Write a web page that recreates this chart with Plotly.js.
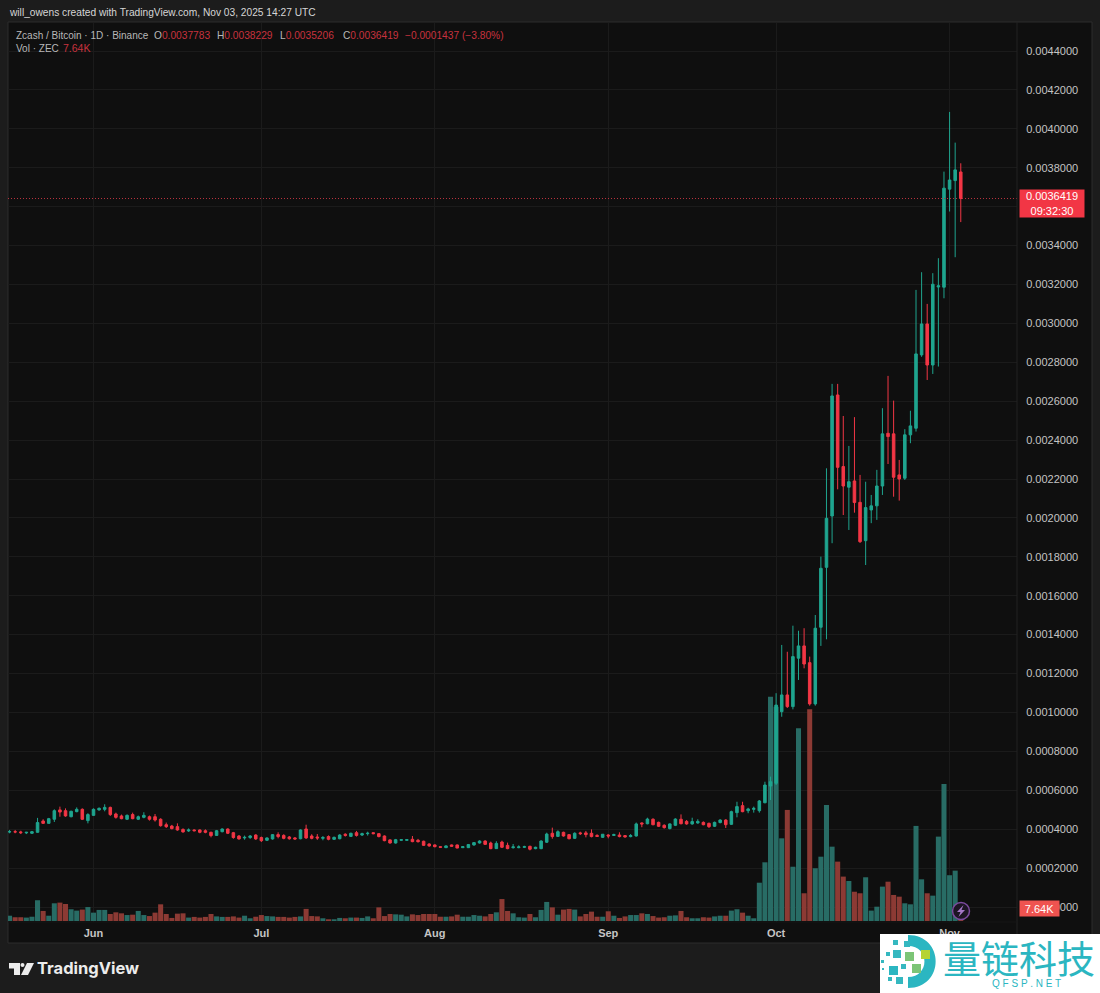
<!DOCTYPE html>
<html><head><meta charset="utf-8">
<script src="https://cdn.plot.ly/plotly-3.0.1.min.js"></script>
<style>html,body{margin:0;padding:0;background:#1c1c1c}#c{width:1100px;height:993px}</style>
</head><body><div id="c"></div>
<script>
// All prices in millionths of BTC, one row per month (May 17 - Nov 3, 2025)
const firstDay = '2025-05-17';
const openP = [
386,387,386,381,379,384,442,430,451,499,495,464,490,502,444,
471,499,502,512,478,468,451,475,451,461,464,464,451,423,416,413,399,391,396,396,392,384,368,387,401,382,365,355,357,370,
357,343,350,372,368,360,355,351,401,365,360,353,362,348,351,374,363,382,370,377,382,377,365,345,329,343,343,348,343,338,324,
319,310,305,319,319,305,305,319,329,339,329,300,334,317,305,305,307,312,300,300,333,379,363,384,372,353,381,381,379,368,358,
370,368,370,367,362,365,432,428,451,435,420,403,420,451,440,427,432,435,430,415,434,447,425,485,521,495,502,495,536,622,
636,1004,1090,1030,1279,1342,1256,1044,1438,1746,2010,2632,2264,2158,2190,2080,1883,2041,2062,2164,2435,2432,2221,2204,2427,2461,2838,2997,2786,3187,3186,
3690,3734,3778.3];
const highP = [
396,396,392,386,391,458,451,458,502,516,507,495,512,507,482,
507,512,528,516,485,475,476,485,470,487,470,478,456,434,422,430,404,404,399,399,399,387,396,404,404,386,370,367,370,374,
362,358,375,384,374,365,360,399,423,374,375,365,368,362,374,379,382,391,382,387,384,379,368,348,350,348,348,365,350,341,327,
322,312,317,321,321,312,324,334,343,343,336,338,341,331,324,317,315,315,310,343,382,408,394,387,375,384,387,391,399,374,375,
374,377,384,370,375,434,435,459,456,439,425,430,456,476,447,459,451,440,434,439,451,451,495,541,541,510,516,550,644,670,
1099,1347,1312,1446,1420,1433,1287,1501,1801,2255,2689,2689,2524,2370,2518,2221,2186,2118,2247,2564,2730,2603,2298,2456,2551,3172,3263,3100,3258,3335,3780,
4087,3929,3822.9];
const lowP = [
379,379,375,375,375,382,427,428,437,464,464,461,487,447,430,
468,495,492,468,454,451,447,451,447,456,444,439,413,406,399,392,382,386,389,379,379,358,365,384,375,351,346,346,350,345,
334,339,346,353,348,346,346,348,350,348,345,343,343,345,348,362,360,362,365,367,374,358,338,326,326,339,341,333,331,314,310,
307,305,303,310,302,303,303,315,326,319,297,298,303,297,300,302,303,291,297,297,329,351,360,362,348,350,370,358,358,360,355,
353,365,358,357,358,362,410,425,420,411,403,399,416,425,423,423,428,420,406,411,430,406,422,461,487,482,485,485,533,550,
627,978,1023,1016,1167,1227,1035,1035,1342,1376,1870,2147,2015,1938,2027,1871,1758,1973,1990,2118,2277,2109,2089,2195,2384,2444,2828,2709,2740,2778,3129,
3575,3340,3520.6];
const closeP = [
387,386,382,384,387,434,430,454,495,488,468,492,502,451,475,
502,507,512,475,461,454,471,454,464,471,451,447,418,413,403,396,386,396,392,384,384,367,392,401,379,357,350,358,365,350,
341,355,372,362,353,351,350,396,355,353,355,357,348,358,370,368,379,368,377,379,377,362,341,329,346,346,346,336,336,317,314,
310,307,314,312,303,310,321,331,339,322,300,327,307,300,309,309,310,297,307,339,375,362,387,365,351,379,377,372,362,363,374,
365,372,362,360,367,427,427,452,423,415,408,427,452,428,427,439,440,423,413,435,447,423,490,516,490,504,507,545,627,644,
1038,1090,1030,1287,1342,1249,1044,1433,1741,1998,2627,2260,2164,2186,2079,1878,2053,2062,2164,2432,2418,2209,2200,2427,2473,2843,2997,2786,3201,3193,3695,
3737,3789,3641.9];
// Volume in thousands of ZEC
const volumeK = [
3.1,2.2,2.2,2.0,2.5,12.2,5.9,3.1,10.4,10.8,10.0,6.9,6.1,6.7,8.2,
4.9,6.5,6.5,4.1,5.1,4.5,3.5,3.7,5.9,3.5,2.9,4.9,9.8,4.1,1.8,4.3,4.5,2.0,2.4,2.0,2.4,4.1,2.7,2.4,2.4,2.7,2.0,3.1,1.6,2.5,
3.5,2.9,2.7,2.4,2.4,2.0,2.4,2.7,7.1,2.9,2.7,1.6,1.0,1.0,1.8,1.6,2.0,2.0,1.8,2.7,1.6,8.0,2.9,4.1,3.9,3.7,2.7,3.9,3.5,4.1,4.1,
4.1,2.5,2.5,2.7,3.7,2.5,2.5,3.5,3.1,2.7,4.1,5.1,12.9,5.9,4.5,2.2,2.0,4.1,2.2,6.5,11.2,8.0,3.7,6.7,7.1,6.7,2.7,4.1,5.5,2.5,2.5,
5.7,3.1,1.8,2.7,3.5,3.5,4.5,4.1,2.9,2.0,2.2,3.1,3.3,5.9,2.2,1.6,1.6,2.2,2.0,2.7,3.1,3.1,6.1,6.9,4.9,3.1,1.6,22.5,34.5,131.9,
126,48.6,65.3,31.9,113.3,16.3,124.5,31,37.8,68.2,43.7,34.9,26.1,23.5,17.2,16.3,25.7,6.1,8.4,20.2,23.1,15.3,14.3,10.4,9.8,55.9,24.5,16.3,14.9,49.6,80.6,
26.9,29.6,7.64];
const monthTicks = ['2025-06-01','2025-07-01','2025-08-01','2025-09-01','2025-10-01','2025-11-01'];
const monthLabels = ['Jun','Jul','Aug','Sep','Oct','Nov'];
const priceTicks = [0,0.0002,0.0004,0.0006,0.0008,0.0010,0.0012,0.0014,0.0016,0.0018,0.0020,0.0022,0.0024,0.0026,0.0028,0.0030,0.0032,0.0034,0.0036,0.0038,0.0040,0.0042,0.0044];
const lastPrice = 0.0036419;

const UP='#1fa58f', DOWN='#f23645', VUP='rgb(40,108,101)', VDOWN='rgb(140,58,52)', TXT='#c4c4c4', DIM='#c8323e';
const FONT='"Liberation Sans", Arial, sans-serif';
const dates = openP.map((_,i)=>{const d=new Date(firstDay+'T00:00:00Z');d.setUTCDate(d.getUTCDate()+i);return d.toISOString().slice(0,10);});
const m = v=>v*1e-6;

const L=8,R=1017,T=23,B=922,W=1100,H=993;
const px=x=>(x-L)/(R-L), py=y=>1-(y-T)/(B-T);
const P=(x,y)=>px(x).toFixed(5)+','+py(y).toFixed(5);
const rect=(x0,y0,x1,y1,color,layer,line)=>({type:'rect',xref:'paper',yref:'paper',x0:px(x0),x1:px(x1),y0:py(y0),y1:py(y1),fillcolor:color,line:line||{width:0},layer:layer||'above'});
const path=(d,color,layer)=>({type:'path',xref:'paper',yref:'paper',path:d,fillcolor:color,line:{width:0},layer:layer||'above'});
const ann=(x,y,text,size,color,extra)=>Object.assign({xref:'paper',yref:'paper',x:px(x),y:py(y),text:text,showarrow:false,xanchor:'left',yanchor:'middle',font:{family:FONT,size:size,color:color},borderpad:0},extra||{});

const traces=[
 {type:'bar',x:dates,y:volumeK,yaxis:'y',marker:{color:openP.map((o,i)=>closeP[i]>=o?VUP:VDOWN),line:{width:0}},hoverinfo:'skip',showlegend:false},
 {type:'candlestick',x:dates,open:openP.map(m),high:highP.map(m),low:lowP.map(m),close:closeP.map(m),yaxis:'y2',whiskerwidth:0,
  increasing:{line:{color:UP,width:1},fillcolor:UP},decreasing:{line:{color:DOWN,width:1},fillcolor:DOWN},hoverinfo:'skip',showlegend:false}
];
const TEAL='#2bb6c1';
const squares=[[893,940,5,'#35b8c0'],[904,941,6,'#35b8c0'],[886,952,4,'#35b8c0'],[893,950,8,'#35b8c0'],[905,952,9,'#7cc576'],[889,966,9,'#2bb6c1'],[901,964,5,'#35b8c0'],[881,960,3,'#35b8c0'],[882,968,2,'#35b8c0'],[912,964,9,'#7cc576'],[921,950,9,'#b5d334'],[888,977,4,'#35b8c0'],[896,977,7,'#35b8c0']];
const layout={
 width:W,height:H,paper_bgcolor:'#1c1c1c',plot_bgcolor:'#0f0f0f',
 margin:{l:L,r:W-R,t:T,b:H-B,pad:0},showlegend:false,bargap:0.1,boxgap:0.35,
 xaxis:{type:'date',range:['2025-05-16 17:17','2025-11-13 01:12'],rangeslider:{visible:false},tickmode:'array',tickvals:monthTicks,ticktext:monthLabels,
   showgrid:true,gridcolor:'#1b1b1b',gridwidth:1,zeroline:false,showline:false,ticks:'outside',ticklen:1,tickcolor:'rgba(0,0,0,0)',
   tickfont:{family:FONT,size:11,color:TXT,weight:700}},
 yaxis:{range:[-0.6,528],showgrid:false,zeroline:false,showticklabels:false,ticks:'',fixedrange:true},
 yaxis2:{overlaying:'y',side:'right',range:[-0.0000771,0.004544],tickmode:'array',tickvals:priceTicks,ticktext:priceTicks.map(v=>v.toFixed(7)),
   showgrid:true,gridcolor:'#1b1b1b',gridwidth:1,zeroline:false,showline:false,ticks:'outside',ticklen:6,tickcolor:'rgba(0,0,0,0)',
   tickfont:{family:FONT,size:11,color:TXT}},
 shapes:[
  rect(8,22,1092,943,'#0f0f0f','below',{width:1,color:'#2c2c2c'}),
  {type:'line',xref:'paper',yref:'y2',x0:px(8),x1:px(1017),y0:lastPrice,y1:lastPrice,line:{color:'#b8323e',width:1,dash:'1px,2px'},layer:'above'},
  {type:'line',xref:'paper',yref:'paper',x0:px(1017),x1:px(1017),y0:py(22),y1:py(943),line:{color:'#222222',width:1},layer:'above'},
  {type:'line',xref:'paper',yref:'paper',x0:px(8),x1:px(1017),y0:py(922),y1:py(922),line:{color:'#171717',width:1},layer:'above'},
  // lightning badge
  {type:'circle',xref:'paper',yref:'paper',x0:px(952.5),x1:px(969.5),y0:py(902.5),y1:py(919.5),fillcolor:'#1d1524',line:{color:'#7c4a9e',width:1.5},layer:'above'},
  path(`M ${P(963.5,905)} L ${P(957,912)} L ${P(960.5,912)} L ${P(958.5,917)} L ${P(965,910)} L ${P(961.5,910)} Z`,'#a678c8'),
  // TradingView logo
  path(`M ${P(9,963)} H ${px(20)} V ${py(975)} H ${px(14)} V ${py(968.5)} H ${px(9)} Z`,'#ececec'),
  {type:'circle',xref:'paper',yref:'paper',x0:px(20.5),x1:px(24.5),y0:py(963),y1:py(967),fillcolor:'#ececec',line:{width:0},layer:'above'},
  path(`M ${P(27,963)} H ${px(34)} L ${P(28,975)} H ${px(21)} Z`,'#ececec'),
  // watermark panel
  rect(880,934,1100,993,'#ffffff'),
  path(`M ${P(908,935)} C ${P(945,935)} ${P(945,988)} ${P(908,988)} L ${P(908,977)} C ${P(930,977)} ${P(930,946)} ${P(908,946)} Z`,TEAL)
 ].concat(squares.map(s=>rect(s[0],s[1],s[0]+s[2],s[1]+s[2],s[3]))),
 annotations:[
  ann(8,12.5,'will_owens created with TradingView.com, Nov 03, 2025 14:27 UTC',10.2,'#d6d6d6'),
  ann(15,35,'Zcash / Bitcoin · 1D · Binance',10,'#b8b8b8'),
  ann(153,35,`O<span style="color:${DIM}">0.0037783</span>`,10.2,'#b8b8b8'),
  ann(216,35,`H<span style="color:${DIM}">0.0038229</span>`,10.2,'#b8b8b8'),
  ann(279,35,`L<span style="color:${DIM}">0.0035206</span>`,10.2,'#b8b8b8'),
  ann(342,35,`C<span style="color:${DIM}">0.0036419</span>`,10.2,'#b8b8b8'),
  ann(404,35,'−0.0001437 (−3.80%)',10.2,DIM),
  ann(15,48,'Vol · ZEC',10,'#b8b8b8'),
  ann(62,48,'7.64K',10.5,DIM),
  ann(1019,203.5,'0.0036419<br>09:32:30',11,'#ffffff',{bgcolor:DOWN,width:64,height:27,align:'center'}),
  ann(1019,908,'7.64K',11,'#ffffff',{bgcolor:'#ef5350',width:39,height:15,align:'center'}),
  ann(36,968,'TradingView',17,'#ececec',{font:{family:'Inter, "Liberation Sans", sans-serif',size:16.5,color:'#ececec',weight:700}}),
  ann(1019,956,'量链科技',38,TEAL,{xanchor:'center',font:{family:'"Noto Sans CJK SC", sans-serif',size:38,color:TEAL}}),
  ann(1026,984,'Q F S P . N E T',10,TEAL,{xanchor:'center'})
 ]
};
Plotly.newPlot('c',traces,layout,{displayModeBar:false,staticPlot:true});
</script></body></html>
